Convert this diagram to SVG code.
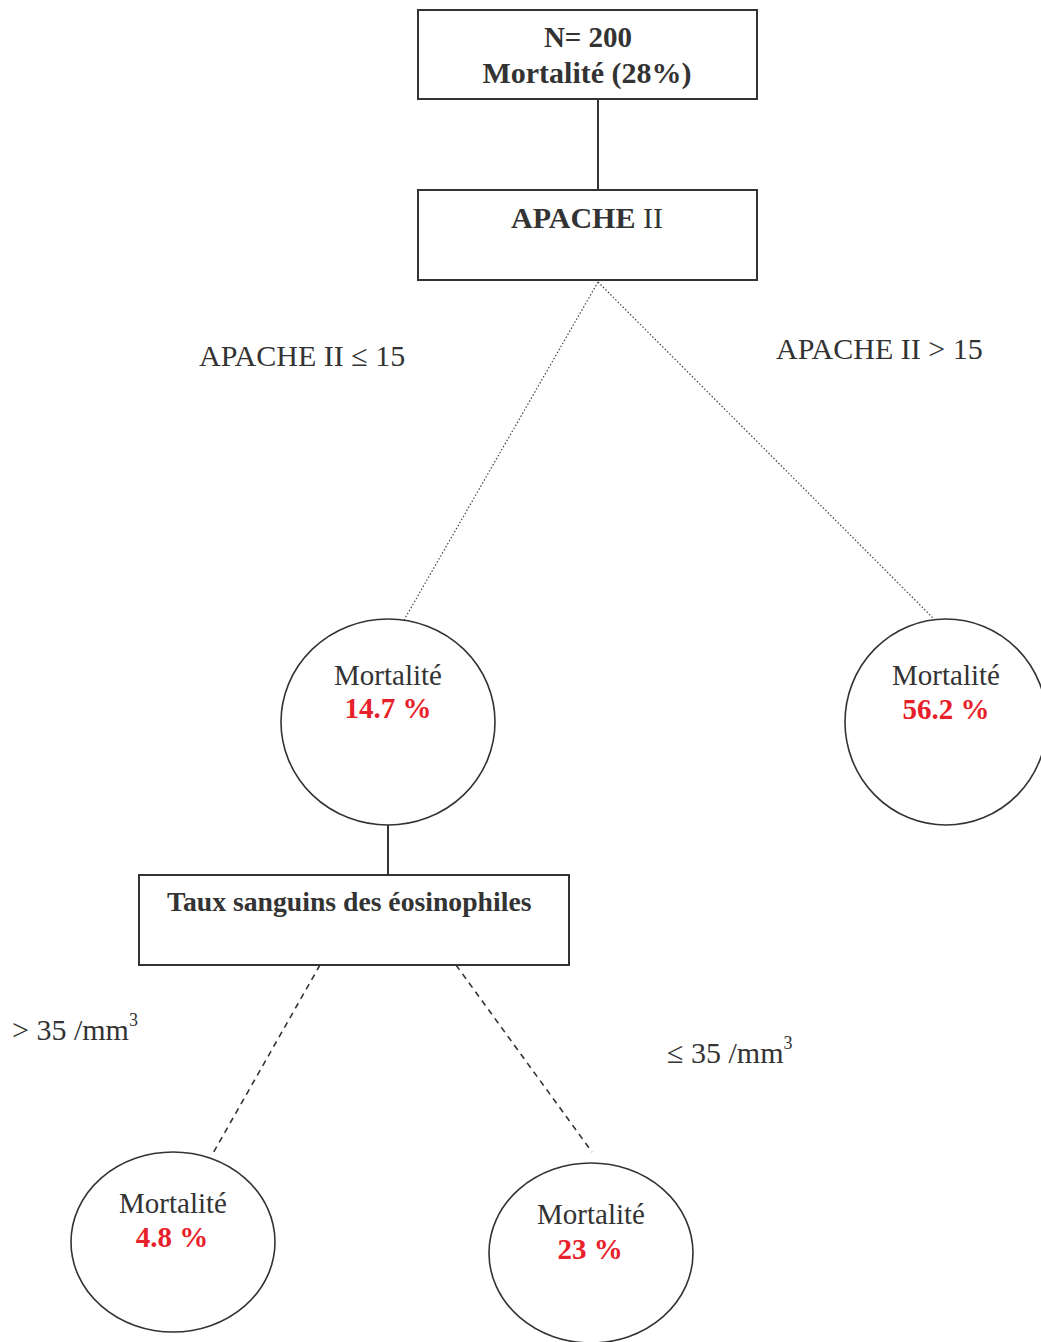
<svg xmlns="http://www.w3.org/2000/svg" width="1041" height="1342" viewBox="0 0 1041 1342">
<style>
  .box { fill: #fff; stroke: #333; stroke-width: 2; }
  .node { fill: #fff; stroke: #333; stroke-width: 1.6; }
  .t { font-family: "Liberation Serif", "Times New Roman", serif; font-size: 29px; fill: #333; }
  .l { font-size: 30px; }
  .s { font-size: 27.7px; }
  .sup { font-size: 18px; }
  .b { font-weight: bold; }
  .red { font-family: "Liberation Serif", "Times New Roman", serif; font-size: 29px; font-weight: bold; fill: #e8202a; }
  .solid { stroke: #333; stroke-width: 2; fill: none; }
  .dot { stroke: #444; stroke-width: 1.2; stroke-dasharray: 1.5 2; fill: none; }
  .dash { stroke: #333; stroke-width: 1.6; stroke-dasharray: 6 5; fill: none; }
</style>
<rect width="1041" height="1342" fill="#fff"/>
<g id="connectors">
  <line class="solid" x1="598" y1="99" x2="598" y2="190"/>
  <line class="dot" x1="598" y1="282" x2="404" y2="620"/>
  <line class="dot" x1="598" y1="282" x2="935" y2="620"/>
  <line class="solid" x1="388" y1="825" x2="388" y2="875"/>
  <line class="dash" x1="320" y1="965" x2="212" y2="1155"/>
  <line class="dash" x1="456" y1="965" x2="592" y2="1152"/>
</g>
<g id="labels">
  <text class="t l" x="199" y="366">APACHE II ≤ 15</text>
  <text class="t l" x="776" y="359">APACHE II &gt; 15</text>
  <text class="t l" x="12" y="1040">&gt; 35 /mm<tspan class="sup" dy="-14">3</tspan></text>
  <text class="t l" x="667" y="1063">≤ 35 /mm<tspan class="sup" dy="-14">3</tspan></text>
</g>
<g id="root">
  <rect class="box" x="418" y="10" width="339" height="89"/>
  <text class="t b" x="588" y="47" text-anchor="middle">N= 200</text>
  <text class="t b l" x="587" y="83" text-anchor="middle">Mortalité (28%)</text>
</g>
<g id="apache">
  <rect class="box" x="418" y="190" width="339" height="90"/>
  <text class="t l" x="511" y="228"><tspan class="b">APACHE</tspan> II</text>
</g>
<g id="low">
  <ellipse class="node" cx="388" cy="722" rx="107" ry="103"/>
  <text class="t" x="388" y="685" text-anchor="middle">Mortalité</text>
  <text class="red" x="388" y="718" text-anchor="middle">14.7 %</text>
</g>
<g id="high">
  <ellipse class="node" cx="946" cy="722" rx="101" ry="103"/>
  <text class="t" x="946" y="685" text-anchor="middle">Mortalité</text>
  <text class="red" x="946" y="719" text-anchor="middle">56.2 %</text>
</g>
<g id="eos">
  <rect class="box" x="139" y="875" width="430" height="90"/>
  <text class="t b s" x="167" y="911">Taux sanguins des éosinophiles</text>
</g>
<g id="eos_high">
  <ellipse class="node" cx="173" cy="1242" rx="102" ry="90"/>
  <text class="t" x="173" y="1213" text-anchor="middle">Mortalité</text>
  <text class="red" x="172" y="1247" text-anchor="middle">4.8 %</text>
</g>
<g id="eos_low">
  <ellipse class="node" cx="591" cy="1253" rx="102" ry="90"/>
  <text class="t" x="591" y="1224" text-anchor="middle">Mortalité</text>
  <text class="red" x="590" y="1259" text-anchor="middle">23 %</text>
</g>
</svg>
